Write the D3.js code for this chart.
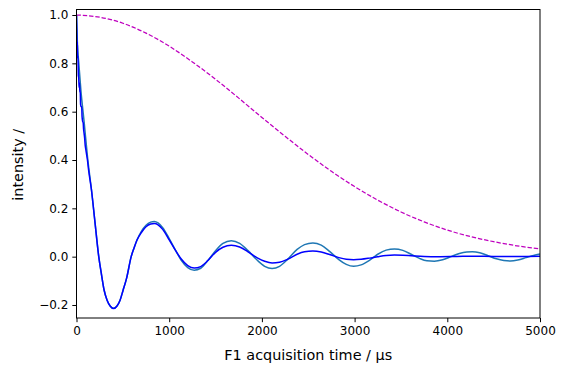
<!DOCTYPE html>
<html>
<head>
<meta charset="utf-8">
<script src="https://cdn.jsdelivr.net/npm/d3@7"></script>
<style>
  body { margin: 0; background: #fff; }
  svg { display: block; font-family: "DejaVu Sans", sans-serif; }
</style>
</head>
<body>
<script>
// envelope (magenta dashed)
const tEnv = [0, 250, 500, 750, 1000, 1250, 1500, 1750, 2000, 2250, 2500, 2750,
  3000, 3250, 3500, 3750, 4000, 4250, 4500, 4750, 5000];
const yEnv = [1.0, 0.991, 0.966, 0.925, 0.871, 0.806, 0.734, 0.656, 0.576, 0.498, 0.423, 0.353,
  0.290, 0.234, 0.185, 0.144, 0.110, 0.083, 0.062, 0.045, 0.032];

// light blue series (tab:blue)
const tLight = [0, 10, 25, 47, 83, 118, 161, 200, 240, 270, 297, 330, 365, 400, 435, 470,
  504, 540, 590, 620, 654, 700, 750, 800, 840, 880, 930, 1000, 1070, 1130, 1200, 1270,
  1340, 1420, 1500, 1580, 1670, 1760, 1850, 1950, 2030, 2110, 2190, 2280, 2380, 2460,
  2550, 2640, 2730, 2830, 2910, 2990, 3070, 3160, 3250, 3340, 3430, 3520, 3610, 3700,
  3780, 3860, 3950, 4040, 4130, 4210, 4270, 4350, 4440, 4530, 4610, 4680, 4760, 4850,
  4930, 5000];
const yLight = [1.0, 0.88, 0.80, 0.69, 0.555, 0.415, 0.278, 0.14, 0.0, -0.075, -0.137, -0.18,
  -0.205, -0.213, -0.205, -0.18, -0.137, -0.09, 0.0, 0.035, 0.07, 0.105, 0.13, 0.143, 0.146,
  0.14, 0.12, 0.075, 0.025, -0.015, -0.045, -0.056, -0.048, -0.015, 0.025, 0.055, 0.066,
  0.055, 0.025, -0.015, -0.04, -0.049, -0.04, -0.01, 0.03, 0.05, 0.057, 0.048, 0.022,
  -0.012, -0.032, -0.040, -0.034, -0.015, 0.01, 0.027, 0.032, 0.026, 0.01, -0.007,
  -0.017, -0.019, -0.013, 0.0, 0.013, 0.019, 0.020, 0.016, 0.004, -0.009, -0.016,
  -0.018, -0.014, -0.004, 0.005, 0.011];

// dark blue series ('b')
const tDark = [0, 3, 6, 9, 12, 16, 20, 24, 28, 32, 36, 40, 44, 50, 56, 60, 66, 72, 76, 82,
  88, 94, 100, 110, 118, 130, 161, 200, 240, 270, 297, 330, 365, 400, 435, 470, 504, 540,
  590, 620, 654, 700, 750, 800, 840, 880, 930, 1000, 1070, 1130, 1200, 1270, 1340, 1420,
  1500, 1580, 1670, 1760, 1850, 1950, 2030, 2110, 2190, 2280, 2380, 2460, 2550, 2640,
  2730, 2830, 2910, 2990, 3070, 3160, 3250, 3340, 3430, 3520, 3610, 3750, 3900, 4100,
  4300, 4500, 4750, 5000];
const yDark = [1.0, 0.93, 0.86, 0.89, 0.82, 0.83, 0.75, 0.74, 0.70, 0.72, 0.68, 0.69, 0.63,
  0.62, 0.62, 0.58, 0.56, 0.555, 0.53, 0.51, 0.49, 0.46, 0.445, 0.42, 0.40, 0.36, 0.278,
  0.14, 0.0, -0.075, -0.137, -0.18, -0.205, -0.215, -0.205, -0.18, -0.137, -0.09, 0.0,
  0.035, 0.07, 0.10, 0.124, 0.135, 0.137, 0.132, 0.113, 0.07, 0.025, -0.01, -0.037,
  -0.047, -0.041, -0.015, 0.018, 0.039, 0.047, 0.04, 0.02, -0.005, -0.019, -0.026,
  -0.023, -0.01, 0.01, 0.02, 0.023, 0.019, 0.009, -0.004, -0.011, -0.013, -0.011,
  -0.006, 0.0, 0.005, 0.007, 0.006, 0.004, 0.001, 0.0, 0.001, 0.002, 0.001, 0.001, 0.002];

const xTicks = [0, 1000, 2000, 3000, 4000, 5000];
const yTicks = [-0.2, 0.0, 0.2, 0.4, 0.6, 0.8, 1.0];

const width = 566, height = 374;
const plotLeft = 76.5, plotRight = 540, plotTop = 9.5, plotBottom = 318;

const svg = d3.select("body").append("svg")
  .attr("width", width)
  .attr("height", height);

const x = d3.scaleLinear().domain([0, 5000]).range([plotLeft, plotRight]);
const y = d3.scaleLinear().domain([-0.2538, 1.0228]).range([plotBottom, plotTop]);

svg.append("clipPath").attr("id", "plot")
  .append("rect")
  .attr("x", plotLeft).attr("y", plotTop)
  .attr("width", plotRight - plotLeft).attr("height", plotBottom - plotTop);

const line = d3.line()
  .x(d => x(d[0]))
  .y(d => y(d[1]))
  .curve(d3.curveMonotoneX);

const plot = svg.append("g").attr("clip-path", "url(#plot)");

plot.append("path")
  .datum(d3.zip(tLight, yLight))
  .attr("d", line)
  .attr("fill", "none")
  .attr("stroke", "#1f77b4")
  .attr("stroke-width", 1.5);

plot.append("path")
  .datum(d3.zip(tDark, yDark))
  .attr("d", line)
  .attr("fill", "none")
  .attr("stroke", "#0000ff")
  .attr("stroke-width", 1.5);

plot.append("path")
  .datum(d3.zip(tEnv, yEnv))
  .attr("d", line)
  .attr("fill", "none")
  .attr("stroke", "#bf00bf")
  .attr("stroke-width", 1.25)
  .attr("stroke-dasharray", "4.4,1.9");

// axes
const minus = v => d3.format(".1f")(v).replace("-", "\u2212");

const xAxis = svg.append("g")
  .attr("transform", `translate(0,${plotBottom})`)
  .call(d3.axisBottom(x).tickValues(xTicks).tickFormat(d3.format("d"))
    .tickSize(4.2).tickPadding(4).tickSizeOuter(0));

const yAxis = svg.append("g")
  .attr("transform", `translate(${plotLeft},0)`)
  .call(d3.axisLeft(y).tickValues(yTicks).tickFormat(minus)
    .tickSize(4.2).tickPadding(4).tickSizeOuter(0));

[xAxis, yAxis].forEach(g => {
  g.select(".domain").remove();
  g.selectAll("line").attr("stroke", "#000").attr("stroke-width", 1);
  g.selectAll("text")
    .attr("fill", "#000")
    .attr("font-size", 12)
    .attr("font-family", "DejaVu Sans, sans-serif");
});

// frame
svg.append("rect")
  .attr("x", plotLeft).attr("y", plotTop)
  .attr("width", plotRight - plotLeft).attr("height", plotBottom - plotTop)
  .attr("fill", "none")
  .attr("stroke", "#000")
  .attr("stroke-width", 1);

svg.append("text")
  .attr("x", (plotLeft + plotRight) / 2)
  .attr("y", 360)
  .attr("text-anchor", "middle")
  .attr("font-size", 14.4)
  .attr("fill", "#000")
  .text("F1 acquisition time / \u00b5s");

svg.append("text")
  .attr("transform", `translate(23,${(plotTop + plotBottom) / 2 + 1}) rotate(-90)`)
  .attr("text-anchor", "middle")
  .attr("font-size", 14.4)
  .attr("fill", "#000")
  .text("intensity /");
</script>
</body>
</html>
